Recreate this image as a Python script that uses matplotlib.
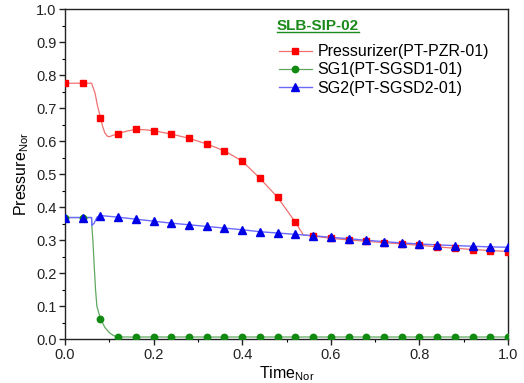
import matplotlib
matplotlib.use("Agg")
import matplotlib.pyplot as plt

plt.rcParams['font.family'] = ['Liberation Sans', 'DejaVu Sans']
plt.rcParams['mathtext.fontset'] = 'custom'
plt.rcParams['mathtext.rm'] = 'Liberation Sans'
plt.rcParams['mathtext.it'] = 'Liberation Sans'

# marker sample times
t_mk = [0.00, 0.04, 0.08, 0.12, 0.16, 0.20, 0.24, 0.28, 0.32, 0.36, 0.40, 0.44, 0.48,
        0.52, 0.56, 0.60, 0.64, 0.68, 0.72, 0.76, 0.80, 0.84, 0.88, 0.92, 0.96, 1.00]
red_mk = [0.776, 0.776, 0.672, 0.623, 0.636, 0.632, 0.622, 0.609, 0.592, 0.571, 0.540, 0.488, 0.430,
          0.355, 0.313, 0.306, 0.301, 0.297, 0.293, 0.289, 0.285, 0.280, 0.276, 0.272, 0.269, 0.266]
green_mk = [0.369, 0.369, 0.062, 0.007, 0.007, 0.007, 0.007, 0.007, 0.007, 0.007, 0.007, 0.007, 0.007,
            0.007, 0.007, 0.007, 0.007, 0.007, 0.007, 0.007, 0.007, 0.007, 0.007, 0.007, 0.007, 0.007]
blue_mk = [0.369, 0.369, 0.375, 0.370, 0.364, 0.358, 0.352, 0.347, 0.342, 0.337, 0.332, 0.326, 0.322,
           0.318, 0.314, 0.309, 0.305, 0.300, 0.296, 0.292, 0.289, 0.286, 0.284, 0.282, 0.280, 0.279]

# continuous curves
red_t = [0.00, 0.060, 0.063, 0.068, 0.073, 0.080, 0.085, 0.090, 0.096, 0.100, 0.108, 0.12, 0.14,
         0.16, 0.18, 0.20, 0.24, 0.28, 0.32, 0.36, 0.40, 0.44, 0.48, 0.52, 0.538, 0.56, 0.60, 0.64,
         0.68, 0.72, 0.76, 0.80, 0.84, 0.88, 0.92, 0.96, 1.00]
red_v = [0.776, 0.776, 0.765, 0.745, 0.710, 0.672, 0.645, 0.625, 0.615, 0.614, 0.618, 0.623, 0.631,
         0.636, 0.635, 0.632, 0.622, 0.609, 0.592, 0.571, 0.540, 0.488, 0.430, 0.355, 0.316, 0.313,
         0.306, 0.301, 0.297, 0.293, 0.289, 0.285, 0.280, 0.276, 0.272, 0.269, 0.266]
green_t = [0.00, 0.060, 0.0605, 0.063, 0.066, 0.069, 0.072, 0.080, 0.090, 0.100, 0.110, 0.120, 1.00]
green_v = [0.369, 0.369, 0.345, 0.300, 0.220, 0.150, 0.100, 0.062, 0.036, 0.020, 0.011, 0.007, 0.007]
blue_t = [0.00, 0.060, 0.0605, 0.066, 0.072, 0.080, 0.12, 0.16, 0.20, 0.24, 0.28, 0.32, 0.36, 0.40,
          0.44, 0.48, 0.52, 0.56, 0.60, 0.64, 0.68, 0.72, 0.76, 0.80, 0.84, 0.88, 0.92, 0.96, 1.00]
blue_v = [0.369, 0.369, 0.345, 0.352, 0.370, 0.375, 0.370, 0.364, 0.358, 0.352, 0.347, 0.342, 0.337,
          0.332, 0.326, 0.322, 0.318, 0.314, 0.309, 0.305, 0.300, 0.296, 0.292, 0.289, 0.286, 0.284,
          0.282, 0.280, 0.279]

labels = ['Pressurizer(PT-PZR-01)', 'SG1(PT-SGSD1-01)', 'SG2(PT-SGSD2-01)']
title = 'SLB-SIP-02'

fig = plt.figure(figsize=(5.24, 3.83), dpi=100)
ax = fig.add_axes([65/524, 1-339.3/383, 443/524, 330/383])

# lines
ax.plot(red_t, red_v, color='#f07070', lw=0.9, zorder=2)
ax.plot(green_t, green_v, color='#60a860', lw=0.9, zorder=2)
ax.plot(blue_t, blue_v, color='#6a6aff', lw=1.0, zorder=2)
# markers
ax.plot(t_mk, green_mk, ls='none', marker='o', ms=4.6, color='#108a10', zorder=3)
ax.plot(t_mk, red_mk, ls='none', marker='s', ms=4.8, color='#ff0000', zorder=4)
ax.plot(t_mk, blue_mk, ls='none', marker='^', ms=5.6, color='#0000e6', zorder=5)

# legend proxies
h1, = ax.plot([], [], color='#f07070', lw=0.9, marker='s', ms=4.8, mfc='#ff0000', mec='#ff0000')
h2, = ax.plot([], [], color='#60a860', lw=0.9, marker='o', ms=4.6, mfc='#108a10', mec='#108a10')
h3, = ax.plot([], [], color='#6a6aff', lw=1.0, marker='^', ms=5.6, mfc='#0000e6', mec='#0000e6')
leg = ax.legend([h1, h2, h3], labels, loc='upper left', bbox_to_anchor=(0.482, 0.894),
                frameon=False, fontsize=11.5, handlelength=2.1, handletextpad=0.35,
                labelspacing=0.2, borderpad=0, borderaxespad=0)

tt = ax.text(0.478, 0.950, title, transform=ax.transAxes, fontsize=11, fontweight='bold',
             color='#1a8a1a', va='center', ha='left')
fig.canvas.draw()
bb = tt.get_window_extent().transformed(ax.transAxes.inverted())
ax.plot([bb.x0, bb.x1], [bb.y0 + 0.002, bb.y0 + 0.002], transform=ax.transAxes,
        color='#1a8a1a', lw=1.0, clip_on=False)

ax.set_xlim(0, 1)
ax.set_ylim(0, 1)
ax.set_xticks([0, 0.2, 0.4, 0.6, 0.8, 1.0])
ax.set_xticks([0.1, 0.3, 0.5, 0.7, 0.9], minor=True)
ax.set_yticks([0, 0.1, 0.2, 0.3, 0.4, 0.5, 0.6, 0.7, 0.8, 0.9, 1.0])
ax.set_yticks([0.05, 0.15, 0.25, 0.35, 0.45, 0.55, 0.65, 0.75, 0.85, 0.95], minor=True)
ax.xaxis.set_major_formatter(matplotlib.ticker.FormatStrFormatter('%.1f'))
ax.yaxis.set_major_formatter(matplotlib.ticker.FormatStrFormatter('%.1f'))
ax.tick_params(which='major', direction='out', length=4, width=1.0, labelsize=10.5, colors='#222222',
               pad=2)
ax.tick_params(which='minor', direction='out', length=2.5, width=0.8)
for s in ax.spines.values():
    s.set_linewidth(1.0)
    s.set_color('#222222')

ax.set_xlabel('Time$_{\\mathrm{Nor}}$', fontsize=11.5, labelpad=2)
ax.set_ylabel('Pressure$_{\\mathrm{Nor}}$', fontsize=11.5, labelpad=4)

fig.savefig('out.png', dpi=100)
